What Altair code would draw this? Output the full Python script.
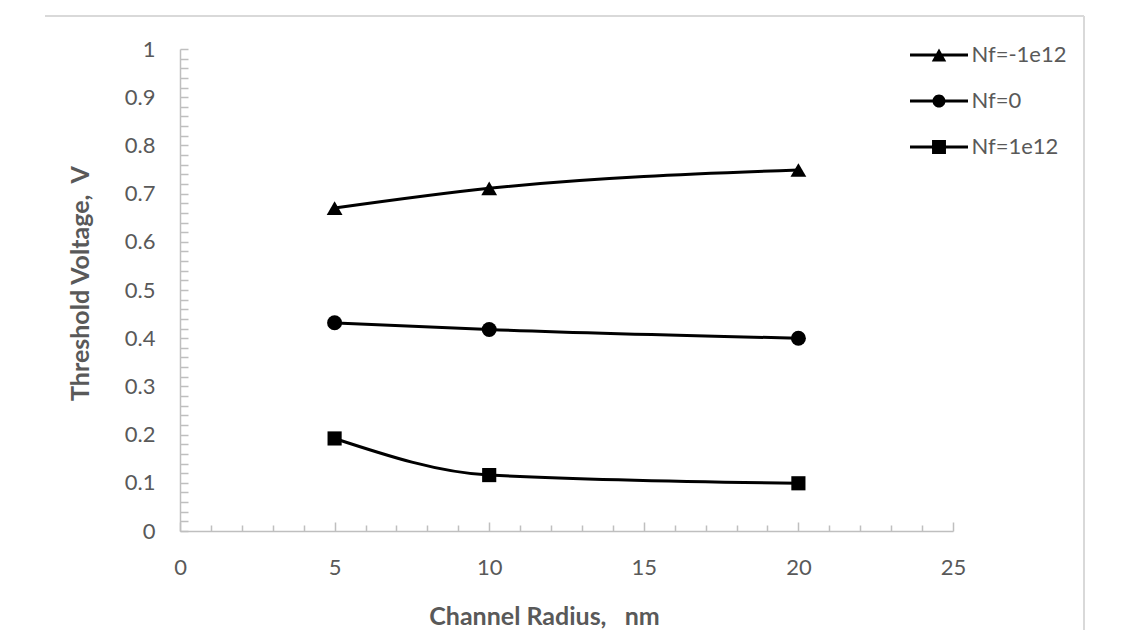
import altair as alt
import pandas as pd

# ---- data ----
radius = [5, 10, 20]
series_names = ["Nf=-1e12", "Nf=0", "Nf=1e12"]
vt_nf_neg = [0.670, 0.711, 0.749]
vt_nf_zero = [0.432, 0.418, 0.400]
vt_nf_pos = [0.192, 0.116, 0.099]

x_major = [0, 5, 10, 15, 20, 25]
x_minor = [i for i in range(0, 26) if i % 5 != 0]
y_major = [0, 0.1, 0.2, 0.3, 0.4, 0.5, 0.6, 0.7, 0.8, 0.9, 1]
y_minor = [round(i * 0.02, 2) for i in range(0, 51)]

x_title = "Channel Radius,\u00a0\u00a0\u00a0nm"
y_title = "Threshold Voltage,\u00a0\u00a0V"

rows = []
for name, vals in zip(series_names, [vt_nf_neg, vt_nf_zero, vt_nf_pos]):
    for r, v in zip(radius, vals):
        rows.append({"r": r, "vt": v, "series": name})
df = pd.DataFrame(rows)

W, H = 773, 482
FONT = "Lato"
GRAY = "#595959"
AXIS = "#bfbfbf"

xs = alt.Scale(domain=[0, 25], nice=False, zero=False)
ys = alt.Scale(domain=[0, 1], nice=False, zero=False)

base = alt.Chart(df)

x_main = alt.Axis(
    orient="bottom", values=x_major, ticks=False, grid=False,
    domainColor=AXIS, domainWidth=1.5, labelPadding=26, labelFont=FONT,
    labelFontSize=22, labelColor=GRAY, labelFlush=False, labelOverlap=False,
    title=x_title, titleFont=FONT, titleFontSize=25,
    titleFontWeight="bold", titleColor=GRAY, titleX=364, titleY=93,
    titleBaseline="alphabetic", titleAlign="center",
)
y_main = alt.Axis(
    orient="left", values=y_major, ticks=False, grid=False, format="~g",
    domainColor=AXIS, domainWidth=1.5, labelPadding=25, labelFont=FONT,
    labelFontSize=22, labelColor=GRAY, labelFlush=False, labelOverlap=False,
    title=y_title, titleFont=FONT, titleFontSize=25,
    titleFontWeight="bold", titleColor=GRAY, titleX=-100, titleY=234,
    titleBaseline="middle", titleAlign="center", titleAngle=270,
)

lines = base.mark_line(
    interpolate="monotone", color="black", strokeWidth=3
).encode(
    x=alt.X("r:Q", scale=xs, axis=x_main),
    y=alt.Y("vt:Q", scale=ys, axis=y_main),
    detail="series:N",
)

points = base.mark_point(filled=True, color="black", opacity=1, strokeWidth=0).encode(
    x=alt.X("r:Q", scale=xs, axis=None),
    y=alt.Y("vt:Q", scale=ys, axis=None),
    shape=alt.Shape(
        "series:N",
        scale=alt.Scale(domain=series_names, range=["triangle-up", "circle", "square"]),
        legend=None,
    ),
    size=alt.Size(
        "series:N",
        scale=alt.Scale(domain=series_names, range=[250, 200, 230]),
        legend=None,
    ),
)

# inward ticks
ticks_major = base.mark_point(opacity=0).encode(
    x=alt.X("r:Q", scale=xs, axis=alt.Axis(
        orient="top", offset=-H, values=x_major, tickSize=9, tickWidth=1.5,
        tickColor=AXIS, labels=False, domain=False, grid=False, title=None)),
    y=alt.Y("vt:Q", scale=ys, axis=alt.Axis(
        orient="right", offset=-W, values=y_minor, tickSize=8, tickWidth=1.5,
        tickColor=AXIS, labels=False, domain=False, grid=False, title=None)),
)
ticks_minor = base.mark_point(opacity=0).encode(
    x=alt.X("r:Q", scale=xs, axis=alt.Axis(
        orient="top", offset=-H, values=x_minor, tickSize=6, tickWidth=1.5,
        tickColor=AXIS, labels=False, domain=False, grid=False, title=None)),
    y=alt.Y("vt:Q", scale=ys, axis=None),
)

# legend symbols: line + marker
seg = "M-2,-0.1H2V0.1H-2Z"
legend_paths = [
    seg + "M-0.5,0.45L0,-0.45L0.5,0.45Z",
    seg + "M-0.45,0A0.45,0.45,0,1,1,0.45,0A0.45,0.45,0,1,1,-0.45,0Z",
    seg + "M-0.48,-0.48H0.48V0.48H-0.48Z",
]
legend_layer = base.mark_point(
    filled=True, color="black", opacity=1, strokeWidth=0, size=841, clip=True
).encode(
    x=alt.value(-5000),
    y=alt.value(-5000),
    shape=alt.Shape(
        "series:N",
        scale=alt.Scale(domain=series_names, range=legend_paths),
        legend=alt.Legend(
            title=None, orient="none", legendX=744.5, legendY=-8.5,
            padding=0, symbolSize=841, symbolFillColor="black",
            symbolStrokeWidth=0, labelOffset=18, rowPadding=20,
            labelFont=FONT, labelFontSize=22, labelColor=GRAY,
        ),
    ),
)

frame_df = pd.DataFrame({"a": [0]})
frame_top = alt.Chart(frame_df).mark_rule(color="#d9d9d9", strokeWidth=2).encode(
    x=alt.value(-135), x2=alt.value(904), y=alt.value(-33)
)
frame_right = alt.Chart(frame_df).mark_rule(color="#d9d9d9", strokeWidth=2).encode(
    x=alt.value(904), y=alt.value(-33), y2=alt.value(600)
)

chart = alt.layer(
    frame_top, frame_right, ticks_major, ticks_minor, lines, points, legend_layer
).resolve_scale(
    shape="independent", size="independent"
).resolve_axis(
    x="independent", y="independent"
).resolve_legend(
    shape="independent", size="independent"
).properties(
    width=W, height=H,
    autosize=alt.AutoSizeParams(type="none"),
    padding={"left": 172, "top": 41, "right": 170, "bottom": 99},
).configure_view(stroke=None)

chart.save("out.html", embed_options={"renderer": "svg", "actions": False})
